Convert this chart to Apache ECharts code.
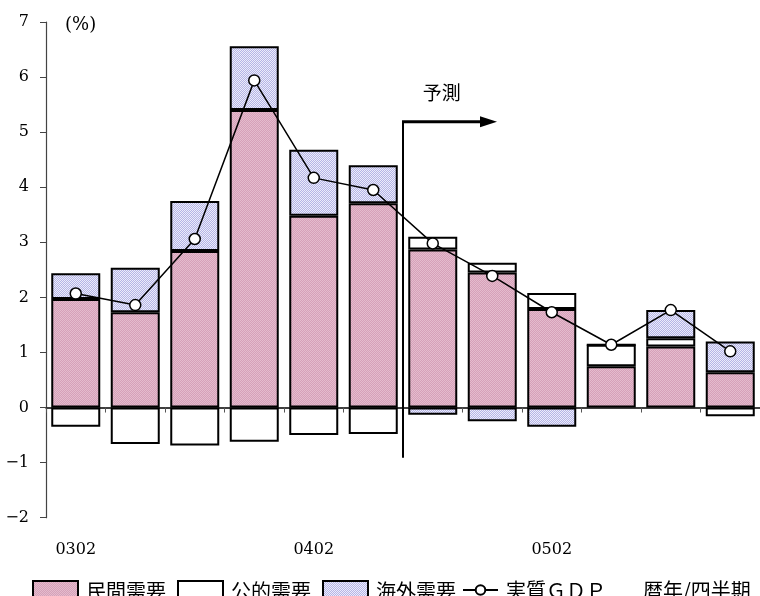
<!DOCTYPE html>
<html>
<head>
<meta charset="utf-8">
<script src="https://cdn.jsdelivr.net/npm/echarts@6/dist/echarts.min.js"></script>
<style>
  html, body { margin: 0; padding: 0; background: #fff; }
  #chart { width: 760px; height: 596px; }
</style>
</head>
<body>
<div id="chart"></div>
<script>
// Quarter labels (YYQ)
const quarters = ['0302', '0303', '0304', '0401', '0402', '0403', '0404', '0501', '0502', '0503', '0504', '0601'];
// Contributions to real GDP growth (percentage points)
const privateDemand  = [1.97, 1.73, 2.84, 5.40, 3.48, 3.71, 2.87, 2.45, 1.79, 0.75, 1.11, 0.64];
const publicDemand   = [-0.35, -0.66, -0.69, -0.62, -0.50, -0.48, 0.23, 0.18, 0.29, 0.39, 0.15, -0.16];
const overseasDemand = [0.47, 0.81, 0.91, 1.16, 1.20, 0.69, -0.13, -0.25, -0.35, 0, 0.51, 0.56];
// Real GDP growth (%)
const realGDP        = [2.07, 1.86, 3.06, 5.94, 4.17, 3.95, 2.98, 2.39, 1.73, 1.14, 1.77, 1.02];
// Forecast begins after this quarter index
const forecastStartIndex = 6;

const seriesNames = ['民間需要', '公的需要', '海外需要', '実質ＧＤＰ'];

// Small dotted texture used as bar fill
function dotPattern(base, dot) {
  const c = document.createElement('canvas');
  c.width = 2; c.height = 2;
  const ctx = c.getContext('2d');
  ctx.fillStyle = base; ctx.fillRect(0, 0, 2, 2);
  ctx.fillStyle = dot; ctx.fillRect(0, 0, 1, 1); ctx.fillRect(1, 1, 1, 1);
  return { image: c, repeat: 'repeat' };
}
const pinkFill = dotPattern('#d6a0b9', '#e4bccd');
const blueFill = dotPattern('#b4b4e6', '#ececfa');

const numFont = '"DejaVu Serif", serif';
const jpFont = '"Noto Sans CJK JP", sans-serif';

const chart = echarts.init(document.getElementById('chart'), null, { renderer: 'canvas' });

const barCommon = {
  type: 'bar',
  stack: 'demand',
  barWidth: 49,
  xAxisIndex: 0,
  yAxisIndex: 0
};

chart.setOption({
  animation: false,
  backgroundColor: '#fff',
  grid: { left: 46, right: 0, top: 22, bottom: 78.3, containLabel: false },
  legend: [
    {
      data: seriesNames.slice(0, 3).map(n => ({ name: n, icon: 'rect' })),
      left: 32, top: 580, padding: 0,
      itemWidth: 45, itemHeight: 20, itemGap: 11,
      textStyle: { fontFamily: jpFont, fontSize: 20, color: '#000', padding: [0, 0, 0, 3] }
    },
    {
      data: [seriesNames[3]],
      left: 462, top: 580, padding: 0,
      itemWidth: 35, itemHeight: 12,
      textStyle: { fontFamily: jpFont, fontSize: 20, color: '#000', padding: [0, 0, 0, 3] }
    }
  ],
  xAxis: [
    {
      type: 'category',
      data: quarters,
      position: 'bottom',
      axisLine: { onZero: true, lineStyle: { color: '#000', width: 1.5 } },
      axisTick: { show: true, length: 5, lineStyle: { color: '#555', width: 1 } },
      axisLabel: { show: false },
      splitLine: { show: false }
    },
    {
      type: 'category',
      data: quarters,
      position: 'bottom',
      axisLine: { show: false, onZero: false },
      axisTick: { show: false },
      axisLabel: {
        interval: 3, margin: 24,
        fontFamily: numFont, fontSize: 16, color: '#000'
      },
      splitLine: { show: false }
    }
  ],
  yAxis: {
    type: 'value',
    min: -2, max: 7, interval: 1,
    axisLine: { show: true, lineStyle: { color: '#444', width: 1.2 } },
    axisTick: { show: true, length: 6, lineStyle: { color: '#444' } },
    axisLabel: {
      margin: 17, fontFamily: numFont, fontSize: 16, color: '#000',
      formatter: v => String(v).replace('-', '−')
    },
    splitLine: { show: false }
  },
  series: [
    Object.assign({}, barCommon, {
      name: seriesNames[0], data: privateDemand,
      itemStyle: { color: pinkFill, borderColor: '#000', borderWidth: 2 }
    }),
    Object.assign({}, barCommon, {
      name: seriesNames[1], data: publicDemand,
      itemStyle: { color: '#fff', borderColor: '#000', borderWidth: 2 }
    }),
    Object.assign({}, barCommon, {
      name: seriesNames[2], data: overseasDemand,
      itemStyle: { color: blueFill, borderColor: '#000', borderWidth: 2 }
    }),
    {
      name: seriesNames[3],
      type: 'line',
      data: realGDP,
      z: 5,
      symbol: 'circle', symbolSize: 11,
      lineStyle: { color: '#000', width: 1.5 },
      itemStyle: { color: '#fff', borderColor: '#000', borderWidth: 1.5 }
    }
  ]
});

// Forecast marker: vertical divider between quarters plus arrow pointing forward
function drawForecast() {
  const pA = chart.convertToPixel({ xAxisIndex: 0, yAxisIndex: 0 }, [forecastStartIndex - 1, 0]);
  const pB = chart.convertToPixel({ xAxisIndex: 0, yAxisIndex: 0 }, [forecastStartIndex, 0]);
  const band = pB[0] - pA[0];
  const x = (pA[0] + pB[0]) / 2;
  const yTop = chart.convertToPixel({ yAxisIndex: 0 }, 5.19);
  const yBot = chart.convertToPixel({ yAxisIndex: 0 }, -0.91);
  const yText = chart.convertToPixel({ yAxisIndex: 0 }, 5.71);
  const tipX = x + band * 1.58;
  const headLen = 17, headHalf = 5.5;
  chart.setOption({
    graphic: [
      {
        type: 'line', z: 10,
        shape: { x1: x, y1: yTop, x2: x, y2: yBot },
        style: { stroke: '#000', lineWidth: 2 }
      },
      {
        type: 'line', z: 10,
        shape: { x1: x - 1, y1: yTop, x2: tipX - headLen + 1, y2: yTop },
        style: { stroke: '#000', lineWidth: 3 }
      },
      {
        type: 'polygon', z: 10,
        shape: { points: [[tipX, yTop], [tipX - headLen, yTop - headHalf], [tipX - headLen, yTop + headHalf]] },
        style: { fill: '#000' }
      },
      {
        type: 'text', z: 10,
        x: x + band * 0.65, y: yText,
        style: {
          text: '予測', fontFamily: jpFont, fontSize: 19, fill: '#000',
          align: 'center', verticalAlign: 'middle'
        }
      },
      {
        type: 'text',
        x: 65, y: 25,
        style: {
          text: '(%)', fontFamily: numFont, fontSize: 18, fill: '#000',
          align: 'left', verticalAlign: 'middle'
        }
      },
      {
        type: 'text',
        x: 643, y: 590,
        style: {
          text: '暦年/四半期', fontFamily: jpFont, fontSize: 20, fill: '#000',
          align: 'left', verticalAlign: 'middle'
        }
      }
    ]
  });
}
drawForecast();
</script>
</body>
</html>
